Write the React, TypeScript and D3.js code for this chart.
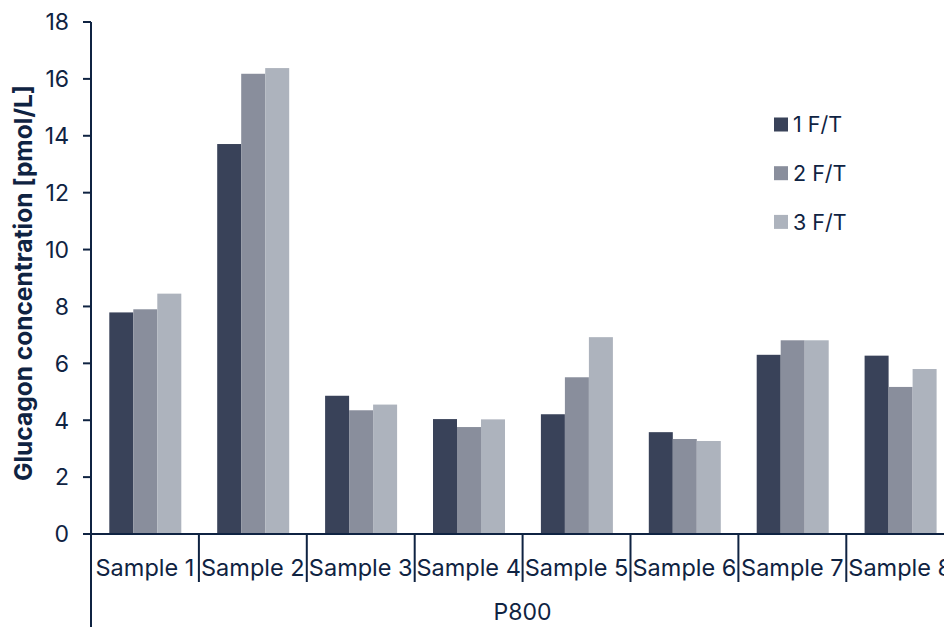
import React from "react";
import * as d3 from "d3";

const samples = ["Sample 1", "Sample 2", "Sample 3", "Sample 4", "Sample 5", "Sample 6", "Sample 7", "Sample 8"];
const seriesNames = ["1 F/T", "2 F/T", "3 F/T"];
const ft1 = [7.79, 13.71, 4.86, 4.04, 4.21, 3.58, 6.3, 6.27];
const ft2 = [7.9, 16.18, 4.35, 3.76, 5.51, 3.34, 6.81, 5.17];
const ft3 = [8.45, 16.38, 4.55, 4.03, 6.92, 3.27, 6.81, 5.8];
const yTicks = [0, 2, 4, 6, 8, 10, 12, 14, 16, 18];
const groupLabel = "P800";
const yTitle = "Glucagon concentration [pmol/L]";

const colors = ["#394259", "#898e9c", "#adb3bd"];
const ink = "#0f2342";
const FONT = "Inter, 'Liberation Sans', Arial, sans-serif";

export default function App() {
  const W = 944, H = 627;
  const x0 = 91, y0 = 534, yTop = 22;
  const step = 107.9;
  const x = d3.scaleBand<string>().domain(samples).range([x0, x0 + step * samples.length]).padding(0);
  const xs = d3.scaleBand<string>().domain(seriesNames).range([18.3, step - 17.6]).padding(0);
  const y = d3.scaleLinear().domain([0, 18]).range([y0, yTop]);
  const series = [ft1, ft2, ft3];

  return (
    <svg width={W} height={H} style={{ position: "absolute", left: 0, top: 0, background: "#fff" }} fontFamily={FONT}>
      {/* bars */}
      {samples.map((s, i) => (
        <g key={s} transform={`translate(${x(s)},0)`}>
          {series.map((vals, j) => (
            <rect key={j} x={xs(seriesNames[j])} y={y(vals[i])} width={xs.bandwidth()} height={y0 - y(vals[i])} fill={colors[j]} />
          ))}
        </g>
      ))}
      {/* y axis */}
      <line x1={x0} x2={x0} y1={yTop} y2={H} stroke={ink} strokeWidth={2} />
      {yTicks.map((t) => (
        <g key={t}>
          <line x1={x0 - 8} x2={x0} y1={y(t)} y2={y(t)} stroke={ink} strokeWidth={2} />
          <text x={x0 - 22} y={y(t)} dy="0.36em" textAnchor="end" fontSize={23} fill={ink}>{t}</text>
        </g>
      ))}
      {/* x axis */}
      <line x1={x0 - 8} x2={W} y1={y0} y2={y0} stroke={ink} strokeWidth={2} />
      {samples.map((s) => (
        <g key={s}>
          <line x1={(x(s) as number) + step} x2={(x(s) as number) + step} y1={y0} y2={582} stroke={ink} strokeWidth={2} />
          <text x={(x(s) as number) + step / 2} y={576} textAnchor="middle" fontSize={23.5} fill={ink}>{s}</text>
        </g>
      ))}
      <text x={x0 + (step * samples.length) / 2} y={620} textAnchor="middle" fontSize={23} fill={ink}>{groupLabel}</text>
      {/* y title */}
      <text transform={`translate(32,283) rotate(-90)`} textAnchor="middle" fontSize={24.5} fontWeight="bold" fill={ink}>{yTitle}</text>
      {/* legend */}
      {seriesNames.map((n, j) => (
        <g key={n} transform={`translate(774,${124.5 + j * 48.7})`}>
          <rect x={0} y={-7} width={14} height={14} fill={colors[j]} />
          <text x={19} y={0} dy="0.36em" fontSize={21.5} fill={ink}>{n}</text>
        </g>
      ))}
    </svg>
  );
}
